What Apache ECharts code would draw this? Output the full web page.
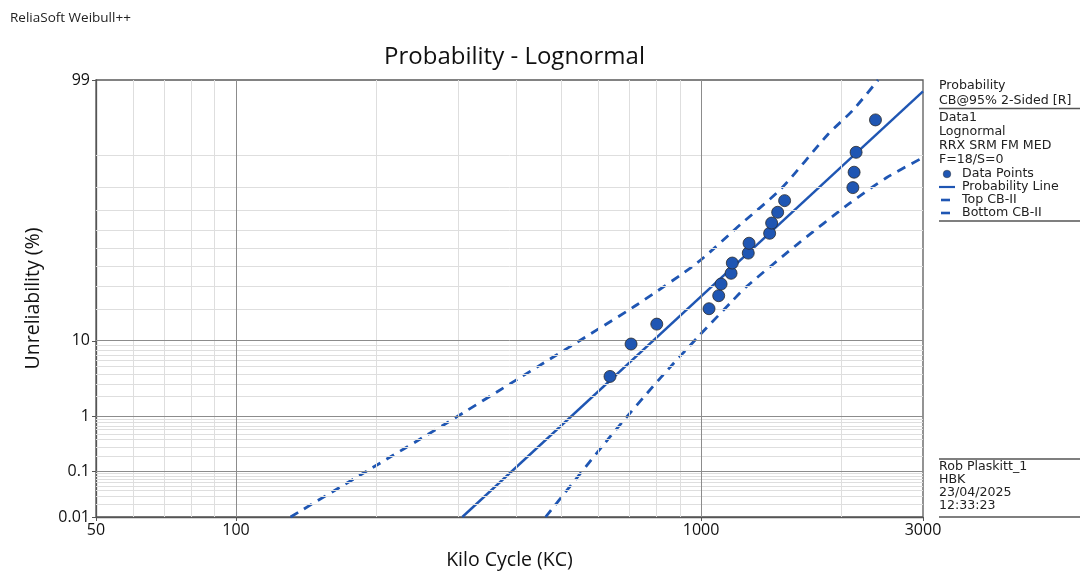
<!DOCTYPE html>
<html>
<head>
<meta charset="utf-8">
<script src="https://cdn.jsdelivr.net/npm/echarts@6/dist/echarts.min.js"></script>
<style>
html,body{margin:0;padding:0;background:#fff;}
#chart{width:1081px;height:571px;}
</style>
</head>
<body>
<div id="chart"></div>
<script>
// ---- data ----
const xTickValues = [50, 100, 1000, 3000];
const yTickPercents = [0.01, 0.1, 1, 10, 99];
const yTickLabels = ['0.01', '0.1', '1', '10', '99'];
const xMajorGrid = [100, 1000];
const xMinorGrid = [60, 70, 80, 90, 200, 300, 400, 500, 600, 700, 800, 900, 2000];
const yMajorGrid = [0.1, 1, 10];
const yMinorGrid = [0.02, 0.03, 0.04, 0.05, 0.06, 0.07, 0.08, 0.09,
                    0.2, 0.3, 0.4, 0.5, 0.6, 0.7, 0.8, 0.9,
                    2, 3, 4, 5, 6, 7, 8, 9,
                    20, 30, 40, 50, 60, 70, 80, 90];

const failureTimes = [637, 707, 803, 1040, 1091, 1104, 1160, 1167, 1263, 1268, 1404, 1418, 1461, 1512, 2120, 2133, 2154, 2371];
const unreliabilityPct = [3.80, 9.24, 14.67, 20.11, 25.54, 30.98, 36.41, 41.85, 47.28, 52.72, 58.15, 63.59, 69.02, 74.46, 79.89, 85.33, 90.76, 96.20];

const probLineTime = [306.6, 3000];
const probLinePct = [0.01, 98.49];

const topCBTime = [131, 191, 280, 409, 597, 728, 979, 1213, 1485, 1873, 2122, 2402];
const topCBPct = [0.01, 0.102, 0.73, 3.70, 12.9, 21.7, 41.8, 62.7, 79.4, 94.2, 97.2, 99];

const bottomCBTime = [463, 638, 817, 987, 1173, 1253, 1615, 2088, 2503, 3000];
const bottomCBPct = [0.01, 0.46, 3.61, 11.1, 23.7, 29.8, 52.4, 73.3, 83.5, 89.5];

// ---- probit scale (inverse normal CDF) ----
function probit(p) {
  const a = [-3.969683028665376e+01, 2.209460984245205e+02, -2.759285104469687e+02, 1.383577518672690e+02, -3.066479806614716e+01, 2.506628277459239e+00];
  const b = [-5.447609879822406e+01, 1.615858368580409e+02, -1.556989798598866e+02, 6.680131188771972e+01, -1.328068155288572e+01];
  const c = [-7.784894002430293e-03, -3.223964580411365e-01, -2.400758277161838e+00, -2.549732539343734e+00, 4.374664141464968e+00, 2.938163982698783e+00];
  const d = [7.784695709041462e-03, 3.224671290700398e-01, 2.445134137142996e+00, 3.754408661907416e+00];
  const pl = 0.02425, ph = 1 - pl;
  let q, r;
  if (p < pl) {
    q = Math.sqrt(-2 * Math.log(p));
    return (((((c[0]*q+c[1])*q+c[2])*q+c[3])*q+c[4])*q+c[5]) / ((((d[0]*q+d[1])*q+d[2])*q+d[3])*q+1);
  }
  if (p <= ph) {
    q = p - 0.5; r = q * q;
    return (((((a[0]*r+a[1])*r+a[2])*r+a[3])*r+a[4])*r+a[5])*q / (((((b[0]*r+b[1])*r+b[2])*r+b[3])*r+b[4])*r+1);
  }
  q = Math.sqrt(-2 * Math.log(1 - p));
  return -(((((c[0]*q+c[1])*q+c[2])*q+c[3])*q+c[4])*q+c[5]) / ((((d[0]*q+d[1])*q+d[2])*q+d[3])*q+1);
}
const zp = pct => probit(pct / 100);
const pairs = (ts, ps) => ts.map((t, i) => [t, zp(ps[i])]);

const yMin = zp(yTickPercents[0]);
const yMax = zp(yTickPercents[yTickPercents.length - 1]);
const yTickZ = yTickPercents.map(zp);

const BLUE = '#1f56b3';
const FONT = 'Open Sans';
const PFONT = 'DejaVu Sans';

const chart = echarts.init(document.getElementById('chart'), null, {renderer: 'canvas'});

const gridLineData = []
  .concat(xMinorGrid.map(v => ({xAxis: v, lineStyle: {color: '#dedede', width: 1, type: 'solid'}})))
  .concat(yMinorGrid.map(v => ({yAxis: zp(v), lineStyle: {color: '#dedede', width: 1, type: 'solid'}})));
const majorLineData = []
  .concat(xMajorGrid.map(v => ({xAxis: v, lineStyle: {color: '#8c8c8c', width: 1, type: 'solid'}})))
  .concat(yMajorGrid.map(v => ({yAxis: zp(v), lineStyle: {color: '#8c8c8c', width: 1, type: 'solid'}})));

const panelX = 939;
const PSTYLE = '12.6px "' + PFONT + '"';
function txt(x, y, s) {
  return {type: 'text', x: x, y: y, silent: true,
    style: {text: s, fill: '#222', font: PSTYLE, textVerticalAlign: 'middle'}};
}
function hline(x1, x2, y, color, w) {
  return {type: 'line', silent: true, shape: {x1: x1, y1: y, x2: x2, y2: y},
    style: {stroke: color, lineWidth: w}};
}

const option = {
  animation: false,
  backgroundColor: '#ffffff',
  title: {
    text: 'Probability - Lognormal',
    left: 509.5, top: 40, textAlign: 'center',
    textStyle: {fontFamily: FONT, fontSize: 24, fontWeight: 'normal', color: '#111'}
  },
  grid: {left: 96, right: 158, top: 80, bottom: 54, containLabel: false, outerBoundsMode: 'none',
    show: true, borderColor: '#5a5a5a', borderWidth: 1.3, backgroundColor: 'transparent'},
  xAxis: {
    type: 'log', logBase: 10, min: 50, max: 3000, position: 'bottom',
    name: 'Kilo Cycle (KC)', nameLocation: 'middle', nameGap: 33,
    nameTextStyle: {fontFamily: FONT, fontSize: 19.5, color: '#111'},
    axisLine: {show: true, onZero: false, lineStyle: {color: '#555', width: 1.3}},
    axisTick: {show: true, customValues: xTickValues, length: 4, lineStyle: {color: '#555'}},
    axisLabel: {customValues: xTickValues, fontFamily: FONT, fontSize: 16, color: '#111', margin: 5,
      formatter: v => String(v)},
    splitLine: {show: false}, minorSplitLine: {show: false}
  },
  yAxis: {
    type: 'value', min: yMin, max: yMax, position: 'left',
    name: 'Unreliability (%)', nameLocation: 'middle', nameGap: 53, nameRotate: 90,
    nameTextStyle: {fontFamily: FONT, fontSize: 19.5, color: '#111'},
    axisLine: {show: true, onZero: false, lineStyle: {color: '#555', width: 1.3}},
    axisTick: {show: true, customValues: yTickZ, length: 4, lineStyle: {color: '#555'}},
    axisLabel: {customValues: yTickZ, fontFamily: FONT, fontSize: 16, color: '#111', margin: 6,
      formatter: v => {
        for (let i = 0; i < yTickZ.length; i++) if (Math.abs(yTickZ[i] - v) < 1e-6) return yTickLabels[i];
        return '';
      }},
    splitLine: {show: false}
  },
  graphic: [
    {type: 'text', x: 10, y: 18, silent: true,
      style: {text: 'ReliaSoft Weibull++', fill: '#222', font: '13.5px "' + FONT + '"', textVerticalAlign: 'middle'}},
    txt(panelX, 86, 'Probability'),
    txt(panelX, 101, 'CB@95% 2-Sided [R]'),
    hline(939, 1080, 108.5, '#555', 1.3),
    txt(panelX, 118, 'Data1'),
    txt(panelX, 132, 'Lognormal'),
    txt(panelX, 146, 'RRX SRM FM MED'),
    txt(panelX, 160, 'F=18/S=0'),
    {type: 'circle', silent: true, shape: {cx: 947, cy: 174, r: 3.8}, style: {fill: BLUE, stroke: '#333', lineWidth: 0.5}},
    txt(962, 174, 'Data Points'),
    hline(939, 955, 187, BLUE, 2.2),
    txt(962, 187, 'Probability Line'),
    hline(941, 950, 200, BLUE, 2.6),
    txt(962, 200, 'Top CB-II'),
    hline(941, 950, 213, BLUE, 2.6),
    txt(962, 213, 'Bottom CB-II'),
    hline(939, 1080, 221, '#555', 1.3),
    hline(939, 1080, 459, '#555', 1.3),
    txt(panelX, 467, 'Rob Plaskitt_1'),
    txt(panelX, 480, 'HBK'),
    txt(panelX, 493, '23/04/2025'),
    txt(panelX, 506, '12:33:23'),
    hline(939, 1080, 517, '#555', 1.3)
  ],
  series: [
    {
      name: 'minorGrid', type: 'line', data: [], z: 1, silent: true,
      markLine: {silent: true, symbol: ['none', 'none'], label: {show: false}, animation: false, data: gridLineData}
    },
    {
      name: 'majorGrid', type: 'line', data: [], z: 2, silent: true,
      markLine: {silent: true, symbol: ['none', 'none'], label: {show: false}, animation: false, data: majorLineData}
    },
    {
      name: 'Top CB-II', type: 'line', z: 3, showSymbol: false, smooth: 0.25,
      data: pairs(topCBTime, topCBPct),
      lineStyle: {color: BLUE, width: 2.8, type: [9, 7]}
    },
    {
      name: 'Bottom CB-II', type: 'line', z: 3, showSymbol: false, smooth: 0.25,
      data: pairs(bottomCBTime, bottomCBPct),
      lineStyle: {color: BLUE, width: 2.8, type: [9, 7]}
    },
    {
      name: 'Probability Line', type: 'line', z: 4, showSymbol: false,
      data: pairs(probLineTime, probLinePct),
      lineStyle: {color: BLUE, width: 2.4}
    },
    {
      name: 'Data Points', type: 'scatter', z: 5, symbolSize: 12,
      data: pairs(failureTimes, unreliabilityPct),
      itemStyle: {color: BLUE, borderColor: '#2a2a2a', borderWidth: 0.8, opacity: 1}
    }
  ]
};
chart.setOption(option);
</script>
</body>
</html>
